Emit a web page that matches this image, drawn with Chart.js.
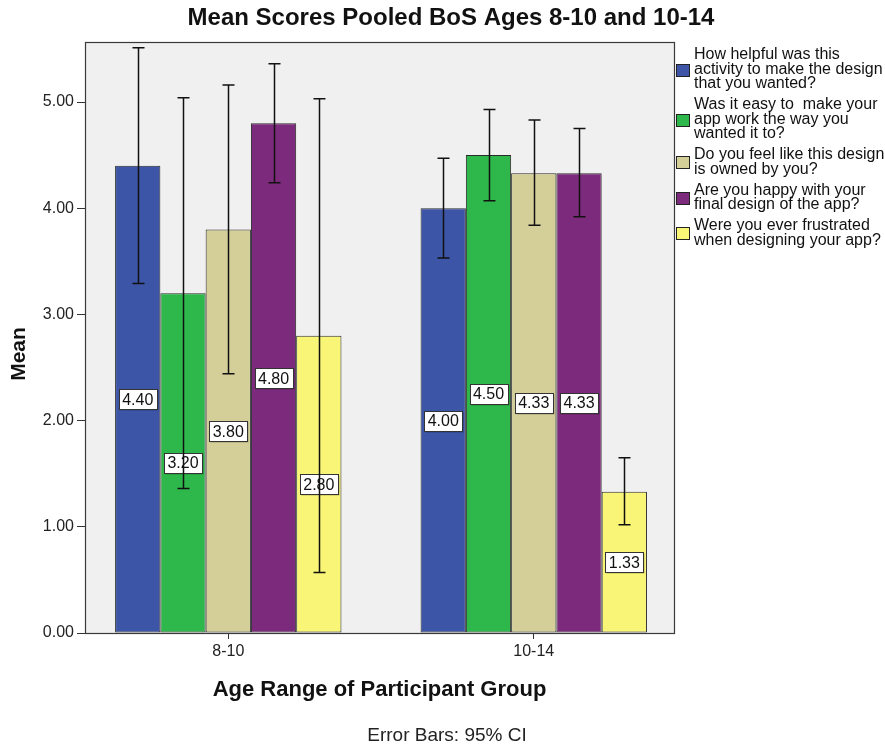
<!DOCTYPE html>
<html>
<head>
<meta charset="utf-8">
<title>Mean Scores Pooled BoS Ages 8-10 and 10-14</title>
<script src="https://cdn.jsdelivr.net/npm/chart.js@4/dist/chart.umd.min.js"></script>
<style>
  html, body { margin: 0; padding: 0; background: #ffffff; }
  #wrap { width: 885px; height: 746px; }
</style>
</head>
<body>
<div id="wrap"><canvas id="chart" width="885" height="746"></canvas></div>
<script>
// Age groups on the x axis
const categories = ['8-10', '10-14'];

// Questions (legend lines as shown)
const qHelpful    = ['How helpful was this', 'activity to make the design', 'that you wanted?'];
const qEasy       = ['Was it easy to  make your', 'app work the way you', 'wanted it to?'];
const qOwned      = ['Do you feel like this design', 'is owned by you?'];
const qHappy      = ['Are you happy with your', 'final design of the app?'];
const qFrustrated = ['Were you ever frustrated', 'when designing your app?'];

// Mean scores per age group
const meanHelpful    = [4.40, 4.00];
const meanEasy       = [3.20, 4.50];
const meanOwned      = [3.80, 4.33];
const meanHappy      = [4.80, 4.33];
const meanFrustrated = [2.80, 1.33];

// 95% confidence intervals [low, high] per age group
const ciHelpful    = [[3.29, 5.51], [3.53, 4.47]];
const ciEasy       = [[1.36, 5.04], [4.07, 4.93]];
const ciOwned      = [[2.44, 5.16], [3.84, 4.83]];
const ciHappy      = [[4.24, 5.36], [3.92, 4.75]];
const ciFrustrated = [[0.57, 5.03], [1.02, 1.65]];

// Y axis tick values
const yTicks = [0, 1, 2, 3, 4, 5];

const FONT = '"Liberation Sans", Arial, Helvetica, sans-serif';

function makeSet(lines, means, ci, color) {
  return {
    label: lines.join(' '),
    legendLines: lines,
    means: means,
    data: means.map((v, i) => ({ x: i, y: v })),
    ci: ci,
    backgroundColor: color,
    borderColor: '#2a2a2a',
    borderWidth: 1,
    borderSkipped: false,
    categoryPercentage: 0.741,
    barPercentage: 1.0
  };
}

const datasets = [
  makeSet(qHelpful, meanHelpful, ciHelpful, '#3c55a6'),
  makeSet(qEasy, meanEasy, ciEasy, '#2eb84b'),
  makeSet(qOwned, meanOwned, ciOwned, '#d4cf98'),
  makeSet(qHappy, meanHappy, ciHappy, '#7c2a7b'),
  makeSet(qFrustrated, meanFrustrated, ciFrustrated, '#f9f577')
];

// Background, plot panel, value boxes, error bars, frame, titles and legend
const decor = {
  id: 'decor',
  beforeDraw(chart) {
    const { ctx, chartArea: a } = chart;
    ctx.save();
    ctx.fillStyle = '#ffffff';
    ctx.fillRect(0, 0, chart.width, chart.height);
    ctx.fillStyle = '#f0f0f0';
    ctx.fillRect(a.left, a.top, a.right - a.left, a.bottom - a.top);
    ctx.restore();
  },
  afterDatasetsDraw(chart) {
    const { ctx } = chart;
    const y = chart.scales.y;
    ctx.save();
    // value boxes at bar mid-height
    ctx.font = '16px ' + FONT;
    ctx.textAlign = 'center';
    ctx.textBaseline = 'middle';
    chart.data.datasets.forEach((ds, i) => {
      const meta = chart.getDatasetMeta(i);
      meta.data.forEach((bar, j) => {
        const v = ds.means[j];
        const cy = (y.getPixelForValue(v) + y.getPixelForValue(0)) / 2;
        const w = 38, h = 20;
        const bx = Math.round(bar.x - w / 2) + 0.5, by = Math.round(cy - h / 2) + 0.5;
        ctx.fillStyle = 'rgba(0,0,0,0.25)';
        ctx.fillRect(bx + 1, by + 1, w, h);
        ctx.fillStyle = '#ffffff';
        ctx.fillRect(bx, by, w, h);
        ctx.strokeStyle = '#333333';
        ctx.lineWidth = 1;
        ctx.strokeRect(bx, by, w, h);
        ctx.fillStyle = '#111111';
        ctx.fillText(v.toFixed(2), bar.x, cy + 1);
      });
    });
    // error bars
    ctx.strokeStyle = '#111111';
    ctx.lineWidth = 1.5;
    chart.data.datasets.forEach((ds, i) => {
      const meta = chart.getDatasetMeta(i);
      meta.data.forEach((bar, j) => {
        const lo = y.getPixelForValue(ds.ci[j][0]);
        const hi = y.getPixelForValue(ds.ci[j][1]);
        const x = Math.round(bar.x) + 0.5;
        ctx.beginPath();
        ctx.moveTo(x, lo); ctx.lineTo(x, hi);
        ctx.moveTo(x - 6, lo); ctx.lineTo(x + 6, lo);
        ctx.moveTo(x - 6, hi); ctx.lineTo(x + 6, hi);
        ctx.stroke();
      });
    });
    ctx.restore();
  },
  afterDraw(chart) {
    const { ctx, chartArea: a } = chart;
    ctx.save();
    // panel frame
    ctx.strokeStyle = '#3a3a3a';
    ctx.lineWidth = 1.2;
    ctx.strokeRect(a.left + 0.5, a.top + 0.5, a.right - a.left, a.bottom - a.top);

    ctx.fillStyle = '#111111';
    ctx.textAlign = 'center';
    ctx.textBaseline = 'middle';
    ctx.font = 'bold 24px ' + FONT;
    ctx.fillText('Mean Scores Pooled BoS Ages 8-10 and 10-14', 451, 18);

    ctx.font = 'bold 22px ' + FONT;
    ctx.fillText('Age Range of Participant Group', (a.left + a.right) / 2, 690);

    ctx.font = '19px ' + FONT;
    ctx.fillStyle = '#222222';
    ctx.fillText('Error Bars: 95% CI', 447, 736);

    ctx.fillStyle = '#111111';
    ctx.font = 'bold 21px ' + FONT;
    ctx.translate(19, 354);
    ctx.rotate(-Math.PI / 2);
    ctx.fillText('Mean', 0, 0);
    ctx.setTransform(1, 0, 0, 1, 0, 0);

    // legend
    ctx.font = '16px ' + FONT;
    ctx.textAlign = 'left';
    let ly = 55;
    const lh = 14.5, gap = 6.5;
    chart.data.datasets.forEach(ds => {
      const n = ds.legendLines.length;
      const mid = ly + (n - 1) * lh / 2;
      const sy = Math.round(mid - 6) + 0.5;
      ctx.fillStyle = ds.backgroundColor;
      ctx.fillRect(676.5, sy, 13, 12);
      ctx.strokeStyle = '#222222';
      ctx.lineWidth = 1;
      ctx.strokeRect(676.5, sy, 13, 12);
      ctx.fillStyle = '#111111';
      ds.legendLines.forEach((t, k) => ctx.fillText(t, 694, ly + k * lh));
      ly += n * lh + gap;
    });
    ctx.restore();
  }
};

new Chart(document.getElementById('chart'), {
  type: 'bar',
  data: { datasets: datasets },
  options: {
    responsive: false,
    animation: false,
    layout: { padding: { left: 0, right: 211, top: 42, bottom: 0 } },
    plugins: { legend: { display: false }, tooltip: { enabled: false }, title: { display: false } },
    scales: {
      x: {
        type: 'linear',
        offset: false,
        min: -0.469,
        max: 1.459,
        grid: { offset: false, drawOnChartArea: false, drawTicks: true, tickLength: 6, color: '#333333' },
        border: { display: false },
        ticks: {
          color: '#222222',
          font: { family: FONT, size: 16 },
          padding: 3,
          autoSkip: false,
          maxRotation: 0,
          callback: v => categories[v]
        },
        afterBuildTicks(scale) { scale.ticks = categories.map((c, i) => ({ value: i })); },
        afterFit(scale) { scale.height = 113; }
      },
      y: {
        min: 0,
        max: 5.565,
        grid: { drawOnChartArea: false, drawTicks: true, tickLength: 8, color: '#333333' },
        border: { display: false },
        ticks: {
          color: '#222222',
          font: { family: FONT, size: 16 },
          padding: 3,
          callback: v => Number(v).toFixed(2)
        },
        afterBuildTicks(scale) { scale.ticks = yTicks.map(v => ({ value: v })); },
        afterFit(scale) { scale.width = 85; }
      }
    }
  },
  plugins: [decor]
});
</script>
</body>
</html>
